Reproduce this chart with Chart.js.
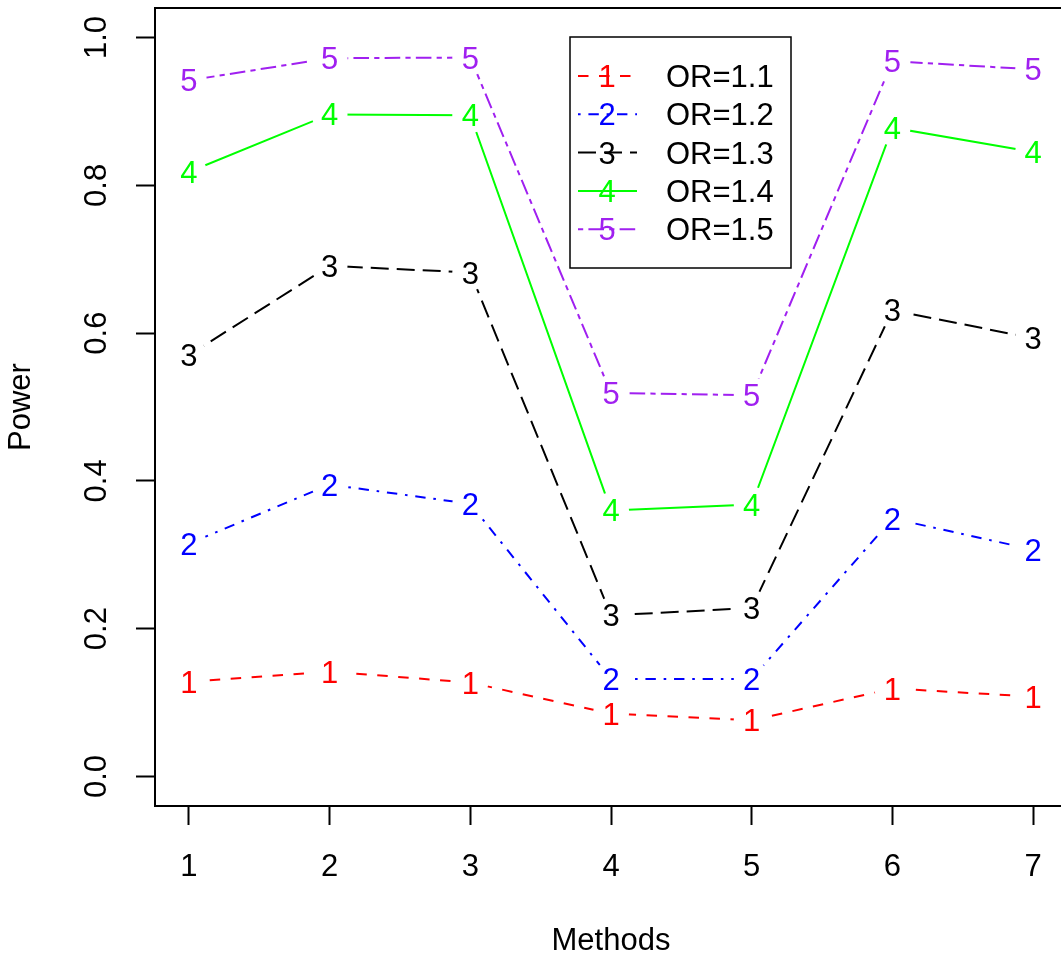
<!DOCTYPE html>
<html>
<head>
<meta charset="utf-8">
<script src="https://cdn.jsdelivr.net/npm/chart.js@4"></script>
<style>
  html, body { margin: 0; padding: 0; background: #fff; overflow: hidden; }
  #marco { width: 1061px; height: 962px; overflow: hidden; }
</style>
</head>
<body>
<div id="marco"><canvas id="grafico" width="1067" height="962"></canvas></div>
<script>
// === DATOS ===
const metodos = [1, 2, 3, 4, 5, 6, 7];
const etiquetasOR = ["OR=1.1", "OR=1.2", "OR=1.3", "OR=1.4", "OR=1.5"];
const marcas = ["1", "2", "3", "4", "5"];
const potenciaOR11 = [0.128, 0.142, 0.127, 0.085, 0.076, 0.119, 0.108];
const potenciaOR12 = [0.315, 0.395, 0.369, 0.132, 0.132, 0.349, 0.307];
const potenciaOR13 = [0.570, 0.691, 0.682, 0.218, 0.228, 0.631, 0.593];
const potenciaOR14 = [0.818, 0.896, 0.895, 0.360, 0.368, 0.878, 0.845];
const potenciaOR15 = [0.942, 0.972, 0.973, 0.519, 0.516, 0.968, 0.957];
const ticksY = [0, 0.2, 0.4, 0.6, 0.8, 1.0];

// === ESTILOS ===
const FUENTE = '"Liberation Sans", Arial, sans-serif';
const colores = ["#FF0000", "#0000FF", "#000000", "#00FF00", "#A020F0"];
const guiones = [[10.5, 10.5], [2.6, 7.8, 10.4, 7.8], [18, 8], [], [5.2, 5.2, 15.6, 5.2]];
const RADIO_HUECO = 18;

const series = [potenciaOR11, potenciaOR12, potenciaOR13, potenciaOR14, potenciaOR15];

const datasets = series.map((valores, i) => ({
  label: etiquetasOR[i],
  marca: marcas[i],
  data: valores.map((v, j) => ({ x: metodos[j], y: v })),
  borderColor: colores[i],
  backgroundColor: colores[i],
  borderDash: guiones[i],
  borderWidth: 2,
  pointRadius: 0,
  pointHoverRadius: 0,
  tension: 0,
  fill: false
}));

// dibuja el número de la serie en cada punto, con hueco en la línea (tipo "b" de R)
const marcasPlugin = {
  id: "marcas",
  beforeDatasetDraw(chart, args) {
    const ctx = chart.ctx;
    ctx.save();
    ctx.beginPath();
    ctx.rect(0, 0, chart.width, chart.height);
    args.meta.data.forEach(p => {
      ctx.moveTo(p.x + RADIO_HUECO, p.y);
      ctx.arc(p.x, p.y, RADIO_HUECO, 0, Math.PI * 2);
    });
    ctx.clip("evenodd");
  },
  afterDatasetDraw(chart, args) {
    const ctx = chart.ctx;
    ctx.restore();
    const ds = chart.data.datasets[args.index];
    ctx.save();
    ctx.font = "31px " + FUENTE;
    ctx.fillStyle = ds.borderColor;
    ctx.textAlign = "center";
    ctx.textBaseline = "alphabetic";
    const m = ctx.measureText(ds.marca);
    const dy = (m.actualBoundingBoxAscent - m.actualBoundingBoxDescent) / 2;
    args.meta.data.forEach(p => ctx.fillText(ds.marca, p.x, p.y + dy));
    ctx.restore();
  },
  afterDraw(chart) {
    const ctx = chart.ctx;
    const a = chart.chartArea;
    ctx.save();
    // caja del gráfico
    ctx.strokeStyle = "#000";
    ctx.lineWidth = 2;
    ctx.strokeRect(a.left, a.top, a.right - a.left, a.bottom - a.top);

    // leyenda
    const lx = a.left + 415, ly = a.top + 29, lw = 221, lh = 231;
    ctx.lineWidth = 1.5;
    ctx.fillStyle = "#fff";
    ctx.fillRect(lx, ly, lw, lh);
    ctx.strokeRect(lx, ly, lw, lh);
    ctx.font = "31px " + FUENTE;
    chart.data.datasets.forEach((ds, i) => {
      const y = ly + 39 + i * 38.3;
      ctx.strokeStyle = ds.borderColor;
      ctx.lineWidth = 2;
      ctx.setLineDash(ds.borderDash);
      ctx.beginPath();
      ctx.moveTo(lx + 8, y);
      ctx.lineTo(lx + 67, y);
      ctx.stroke();
      ctx.setLineDash([]);
      ctx.fillStyle = ds.borderColor;
      ctx.textAlign = "center";
      const m = ctx.measureText(ds.marca);
      ctx.fillText(ds.marca, lx + 37, y + (m.actualBoundingBoxAscent - m.actualBoundingBoxDescent) / 2);
      ctx.fillStyle = "#000";
      ctx.textAlign = "left";
      const t = ctx.measureText(ds.label);
      ctx.fillText(ds.label, lx + 96, y + (t.actualBoundingBoxAscent - t.actualBoundingBoxDescent) / 2);
    });
    ctx.restore();
  }
};

// === GRÁFICO ===
new Chart(document.getElementById("grafico"), {
  type: "line",
  data: { datasets },
  options: {
    responsive: false,
    animation: false,
    devicePixelRatio: 1,
    layout: { autoPadding: false, padding: { top: 8, left: 0, right: 0, bottom: 0 } },
    plugins: { legend: { display: false }, tooltip: { enabled: false } },
    scales: {
      x: {
        type: "linear",
        min: 0.76,
        max: 7.24,
        afterBuildTicks: s => { s.ticks = metodos.map(v => ({ value: v })); },
        afterFit: s => { s.height = 156; s.paddingLeft = 0; s.paddingRight = 0; },
        ticks: { color: "#000", font: { family: FUENTE, size: 31 }, padding: 24, maxRotation: 0, autoSkip: false },
        grid: { drawOnChartArea: false, drawTicks: true, tickLength: 19, tickWidth: 2, tickColor: "#000" },
        border: { display: false },
        title: { display: true, text: "Methods", color: "#000", font: { family: FUENTE, size: 31 }, padding: { top: 0, bottom: 2 } }
      },
      y: {
        min: -0.04,
        max: 1.04,
        afterBuildTicks: s => { s.ticks = ticksY.map(v => ({ value: v })); },
        afterFit: s => { s.width = 155; s.paddingTop = 0; s.paddingBottom = 0; },
        ticks: {
          color: "#000", font: { family: FUENTE, size: 31 }, padding: 17,
          minRotation: 90, maxRotation: 90, crossAlign: "center",
          callback: v => v.toFixed(1)
        },
        grid: { drawOnChartArea: false, drawTicks: true, tickLength: 19, tickWidth: 2, tickColor: "#000" },
        border: { display: false },
        title: { display: true, text: "Power", color: "#000", font: { family: FUENTE, size: 31 }, padding: { top: 3, bottom: 0 } }
      }
    }
  },
  plugins: [marcasPlugin]
});
</script>
</body>
</html>
